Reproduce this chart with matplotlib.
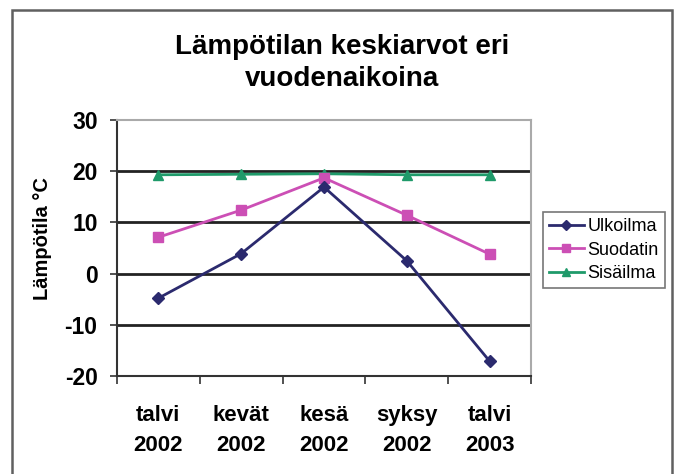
import matplotlib
matplotlib.use("Agg")
import matplotlib.pyplot as plt
from matplotlib.patches import Rectangle

plt.rcParams['font.family'] = ['Liberation Sans', 'DejaVu Sans']
plt.rcParams['axes.unicode_minus'] = False

categories = ["talvi\n2002", "kevät\n2002", "kesä\n2002", "syksy\n2002", "talvi\n2003"]
ulkoilma = [-4.8, 3.9, 16.9, 2.5, -17.1]
suodatin = [7.1, 12.4, 18.7, 11.4, 3.8]
sisailma = [19.3, 19.4, 19.5, 19.3, 19.3]
yticks = [-20, -10, 0, 10, 20, 30]

fig = plt.figure(figsize=(6.78, 4.74), dpi=100)
fig.patches.append(Rectangle((12/678, -0.1), (672-12)/678, 1.1 - 10/474,
                             transform=fig.transFigure, fill=False,
                             edgecolor='#606060', linewidth=1.8))

ax = fig.add_axes([117/678, 1-376/474, 414/678, 256/474])
x = list(range(len(categories)))
ax.plot(x, ulkoilma, color='#2b2a6e', marker='D', markersize=6.5, linewidth=2, label='Ulkoilma', zorder=5)
ax.plot(x, suodatin, color='#cc4fb5', marker='s', markersize=6.5, linewidth=2, label='Suodatin', zorder=4)
ax.plot(x, sisailma, color='#1f9a6a', marker='^', markersize=6.5, linewidth=2, label='Sisäilma', zorder=3)

ax.set_xlim(-0.5, len(categories) - 0.5)
ax.set_ylim(-20, 30)
ax.set_yticks(yticks)
for yv in yticks[1:-1]:
    ax.axhline(yv, color='#222222', linewidth=2, zorder=1)
ax.set_xticks([i - 0.5 for i in range(len(categories) + 1)])
ax.set_xticklabels([])
ax.set_xticks(x, minor=True)
ax.set_xticklabels(categories, minor=True, fontsize=16, fontweight='bold', linespacing=1.55)
ax.tick_params(axis='x', which='minor', length=0, pad=21)
ax.tick_params(axis='x', which='major', length=6, width=1.2, color='#333333', direction='out')
ax.tick_params(axis='y', length=5, width=1.2, color='#333333', labelsize=16.5, pad=9)
for lab in ax.get_yticklabels():
    lab.set_fontweight('bold')
ax.spines['left'].set_color('#333333')
ax.spines['bottom'].set_color('#333333')
ax.spines['left'].set_linewidth(1.5)
ax.spines['bottom'].set_linewidth(1.5)
ax.spines['top'].set_color('#aaaaaa')
ax.spines['right'].set_color('#aaaaaa')
ax.spines['top'].set_linewidth(1.5)
ax.spines['right'].set_linewidth(1.5)

fig.text(42/678, 1-239/474, "Lämpötila °C", rotation=90, ha='center', va='center',
         fontsize=14.5, fontweight='bold')
fig.text(342/678, 1-63/474, "Lämpötilan keskiarvot eri\nvuodenaikoina", ha='center', va='center',
         fontsize=20, fontweight='bold', linespacing=1.3)

leg = fig.legend(loc='upper left', bbox_to_anchor=(543/678, 1-212/474), fontsize=13,
                 frameon=True, fancybox=False, edgecolor='#555555', handlelength=1.9,
                 handletextpad=0.2, borderpad=0.35, labelspacing=0.35, borderaxespad=0,
                 markerscale=0.8)
leg.get_frame().set_linewidth(1.2)

fig.savefig("out.png", dpi=100)
